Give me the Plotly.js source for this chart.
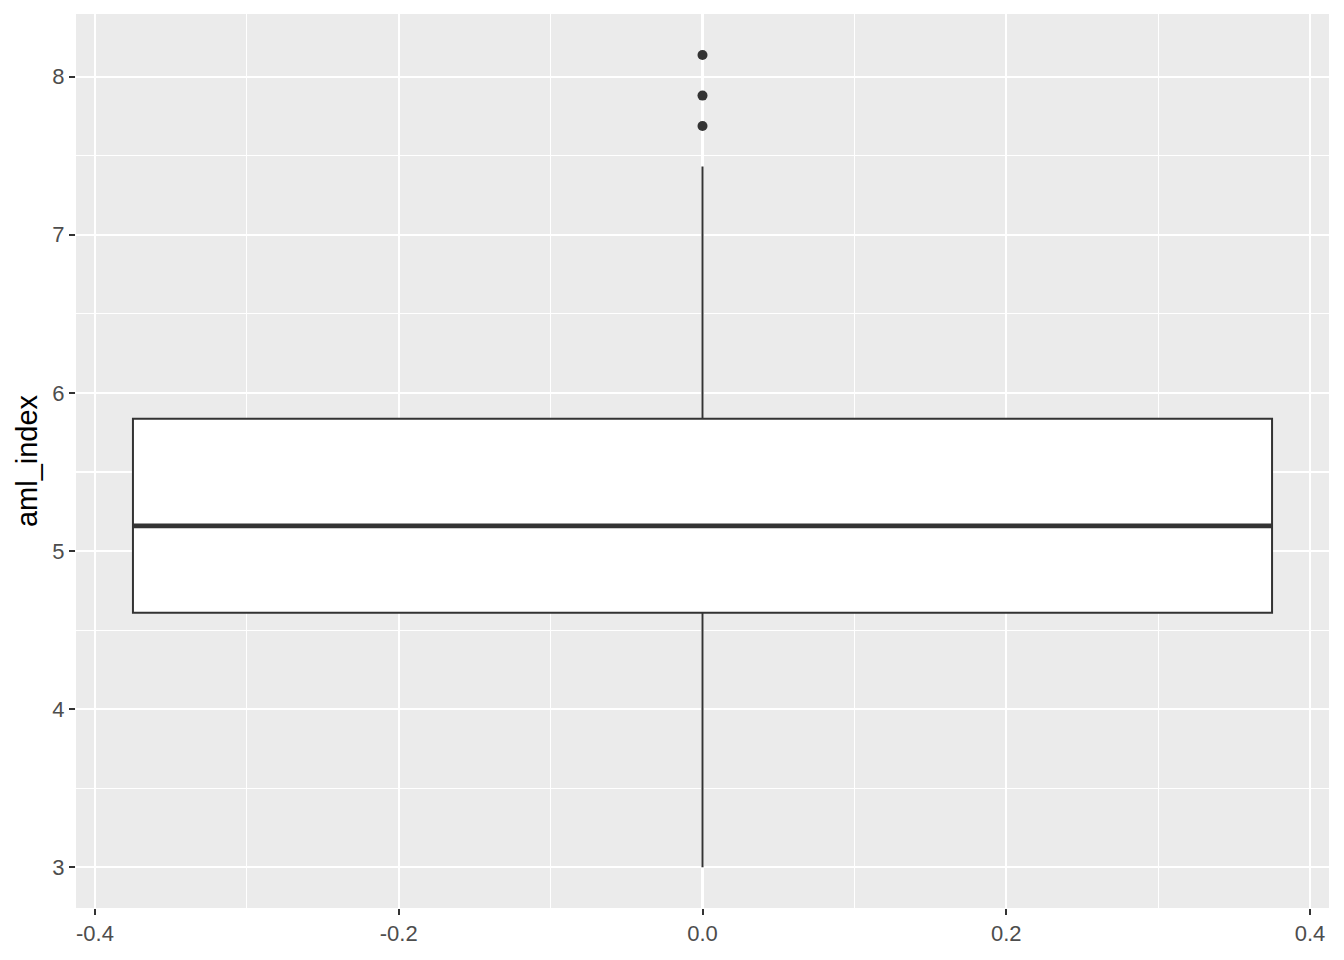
<!DOCTYPE html>
<html>
<head>
<meta charset="utf-8">
<script src="https://cdn.plot.ly/plotly-3.0.1.min.js"></script>
<style>html,body{margin:0;padding:0;background:#fff;}#chart{width:1344px;height:960px;}</style>
</head>
<body>
<div id="chart"></div>
<script>
// Box statistics for aml_index
const boxX = [0];
const q1 = [4.610];
const median = [5.159];
const q3 = [5.837];
const lowerFence = [3.0];
const upperFence = [7.431];
const outlierY = [8.137, 7.880, 7.688];
const outlierX = [0, 0, 0];
const boxWidth = 0.75;

const xTickVals = [-0.4, -0.2, 0.0, 0.2, 0.4];
const xTickText = ["-0.4", "-0.2", "0.0", "0.2", "0.4"];
const xMinor = [-0.3, -0.1, 0.1, 0.3];
const yTickVals = [3, 4, 5, 6, 7, 8];
const yTickText = ["3", "4", "5", "6", "7", "8"];
const yMinor = [3.5, 4.5, 5.5, 6.5, 7.5];

const medianX = [boxX[0] - boxWidth / 2, boxX[0] + boxWidth / 2];
const medianY = [median[0], median[0]];

const traces = [
  {
    type: 'box',
    x: boxX,
    q1: q1, median: median, q3: q3,
    lowerfence: lowerFence, upperfence: upperFence,
    width: boxWidth,
    whiskerwidth: 0,
    fillcolor: '#FFFFFF',
    line: {color: '#333333', width: 2},
    boxpoints: false,
    hoverinfo: 'skip',
    showlegend: false
  },
  {
    type: 'scatter', mode: 'lines',
    x: medianX, y: medianY,
    line: {color: '#333333', width: 4.7},
    hoverinfo: 'skip', showlegend: false
  },
  {
    type: 'scatter', mode: 'markers',
    x: outlierX, y: outlierY,
    marker: {color: '#333333', size: 10},
    hoverinfo: 'skip', showlegend: false
  }
];

const tickFont = {family: 'Liberation Sans, Arial, sans-serif', size: 22, color: '#4D4D4D'};

const layout = {
  width: 1344, height: 960,
  margin: {l: 76, r: 15, t: 14, b: 52},
  paper_bgcolor: '#FFFFFF',
  plot_bgcolor: '#EBEBEB',
  showlegend: false,
  xaxis: {
    range: [-0.4125, 0.4125],
    tickvals: xTickVals, ticktext: xTickText,
    showgrid: true, gridcolor: '#FFFFFF', gridwidth: 2.2,
    zeroline: false, showline: false,
    ticks: 'outside', ticklen: 6, tickwidth: 2, tickcolor: '#333333',
    tickfont: tickFont,
    minor: {tickvals: xMinor, showgrid: true, gridcolor: '#FFFFFF', gridwidth: 1.1, ticks: ''},
    fixedrange: true
  },
  yaxis: {
    range: [2.743, 8.396],
    tickvals: yTickVals, ticktext: yTickText,
    showgrid: true, gridcolor: '#FFFFFF', gridwidth: 2.2,
    zeroline: false, showline: false,
    ticks: 'outside', ticklen: 6, tickwidth: 2, tickcolor: '#333333',
    tickfont: tickFont,
    minor: {tickvals: yMinor, showgrid: true, gridcolor: '#FFFFFF', gridwidth: 1.1, ticks: ''},
    title: {text: 'aml_index', font: {family: 'Liberation Sans, Arial, sans-serif', size: 29, color: '#000000'}, standoff: 6},
    fixedrange: true
  }
};

Plotly.newPlot('chart', traces, layout, {displayModeBar: false, staticPlot: true});
</script>
</body>
</html>
